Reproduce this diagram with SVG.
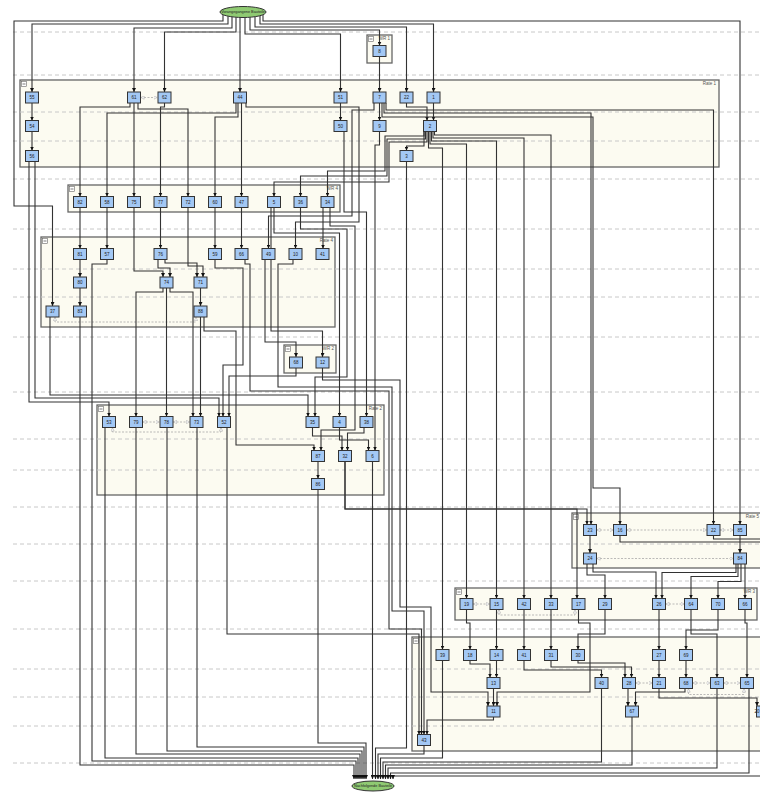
<svg xmlns="http://www.w3.org/2000/svg" width="760" height="794" viewBox="0 0 760 794">
<style>
.lane{stroke:#c8c8c8;stroke-width:1;stroke-dasharray:4 3;fill:none}
.grp{fill:#fcfbf1;stroke:#666;stroke-width:1.3}
.gl{font-family:"Liberation Sans",Arial,sans-serif;font-size:4.5px;fill:#555;text-anchor:end}
.ico{fill:#fff;stroke:#666;stroke-width:0.6}
.node rect{fill:#a3c8f4;stroke:#333;stroke-width:1}
.node text{font-family:"Liberation Sans",Arial,sans-serif;font-size:4.5px;fill:#222;text-anchor:middle}
.term ellipse{fill:#8fca72;stroke:#333;stroke-width:1}
.term text{font-family:"Liberation Sans",Arial,sans-serif;font-size:3.8px;fill:#222;text-anchor:middle}
.e polyline{fill:none;stroke:#333;stroke-width:1.1;marker-end:url(#a)}
.e polyline.open{marker-end:none}
.d polyline{fill:none;stroke:#aaa;stroke-width:0.8;stroke-dasharray:2 1.5;marker-start:url(#h);marker-end:url(#h)}
</style>
<defs>
<marker id="a" viewBox="0 0 6 6" refX="6" refY="3" markerWidth="4" markerHeight="4" markerUnits="userSpaceOnUse" orient="auto"><path d="M0,0L6,3L0,6z" fill="#111"/></marker>
<marker id="h" viewBox="0 0 6 6" refX="6" refY="3" markerWidth="4" markerHeight="4" markerUnits="userSpaceOnUse" orient="auto-start-reverse"><path d="M0.5,0.5L5.5,3L0.5,5.5z" fill="#fff" stroke="#aaa" stroke-width="0.8"/></marker>
</defs>
<rect width="760" height="794" fill="#fff"/>
<g id="clusters">
<rect class="grp" x="367" y="35" width="25" height="28"/><text class="gl" x="390" y="39.5">WR 1</text>
<rect class="grp" x="20" y="80" width="699" height="87"/><text class="gl" x="716" y="85">Rate 1</text>
<rect class="grp" x="68" y="185" width="272" height="27"/><text class="gl" x="338" y="189.5">WR 4</text>
<rect class="grp" x="41" y="237" width="294" height="90"/><text class="gl" x="333" y="241.5">Rate 4</text>
<rect class="grp" x="284" y="345" width="52" height="28"/><text class="gl" x="334" y="349.5">WR 2</text>
<rect class="grp" x="97" y="405" width="287" height="90"/><text class="gl" x="382" y="409.5">Rate 2</text>
<rect class="grp" x="572" y="513" width="230" height="55"/><text class="gl" x="759" y="517.5">Rate 5</text>
<rect class="grp" x="455" y="588" width="302" height="32"/><text class="gl" x="755" y="592.5">WR 3</text>
<rect class="grp" x="412" y="637" width="400" height="114"/>
<g id="icons">
<rect class="ico" x="368.5" y="36.5" width="5" height="5"/><path d="M369.5 39H372.5" stroke="#444" stroke-width="0.7"/>
<rect class="ico" x="21.5" y="81.5" width="5" height="5"/><path d="M22.5 84H25.5" stroke="#444" stroke-width="0.7"/>
<rect class="ico" x="69.5" y="186.5" width="5" height="5"/><path d="M70.5 189H73.5" stroke="#444" stroke-width="0.7"/>
<rect class="ico" x="42.5" y="238.5" width="5" height="5"/><path d="M43.5 241H46.5" stroke="#444" stroke-width="0.7"/>
<rect class="ico" x="285.5" y="346.5" width="5" height="5"/><path d="M286.5 349H289.5" stroke="#444" stroke-width="0.7"/>
<rect class="ico" x="98.5" y="406.5" width="5" height="5"/><path d="M99.5 409H102.5" stroke="#444" stroke-width="0.7"/>
<rect class="ico" x="573.5" y="514.5" width="5" height="5"/><path d="M574.5 517H577.5" stroke="#444" stroke-width="0.7"/>
<rect class="ico" x="456.5" y="589.5" width="5" height="5"/><path d="M457.5 592H460.5" stroke="#444" stroke-width="0.7"/>
<rect class="ico" x="413.5" y="638.5" width="5" height="5"/><path d="M414.5 641H417.5" stroke="#444" stroke-width="0.7"/>
</g>
</g>
<g id="lanes">
<line class="lane" x1="13" y1="32" x2="760" y2="32"/>
<line class="lane" x1="13" y1="75" x2="760" y2="75"/>
<line class="lane" x1="13" y1="112" x2="760" y2="112"/>
<line class="lane" x1="13" y1="141" x2="760" y2="141"/>
<line class="lane" x1="13" y1="179" x2="760" y2="179"/>
<line class="lane" x1="13" y1="229" x2="760" y2="229"/>
<line class="lane" x1="13" y1="269" x2="760" y2="269"/>
<line class="lane" x1="13" y1="297" x2="760" y2="297"/>
<line class="lane" x1="13" y1="337" x2="760" y2="337"/>
<line class="lane" x1="13" y1="392" x2="760" y2="392"/>
<line class="lane" x1="13" y1="439" x2="760" y2="439"/>
<line class="lane" x1="13" y1="470" x2="760" y2="470"/>
<line class="lane" x1="13" y1="507" x2="760" y2="507"/>
<line class="lane" x1="13" y1="544" x2="760" y2="544"/>
<line class="lane" x1="13" y1="581" x2="760" y2="581"/>
<line class="lane" x1="13" y1="629" x2="760" y2="629"/>
<line class="lane" x1="13" y1="669" x2="760" y2="669"/>
<line class="lane" x1="13" y1="697" x2="760" y2="697"/>
<line class="lane" x1="13" y1="726" x2="760" y2="726"/>
<line class="lane" x1="13" y1="763" x2="760" y2="763"/>
</g>
<g id="connectors">
<g class="d">
<polyline points="140.5,97.5 157.5,97.5"/>
<polyline points="142.5,422 159.5,422"/>
<polyline points="173,422 190,422"/>
<polyline points="112.5,427.5 112.5,432 221,432 221,427.5"/>
<polyline points="55,317 55,322 196,322 196,317"/>
<polyline points="473,604 490,604"/>
<polyline points="499,609.5 499,615 575,615 575,609.5"/>
<polyline points="665.5,604 684.5,604"/>
<polyline points="635.5,683 652.5,683"/>
<polyline points="692.5,683 710.5,683"/>
<polyline points="723.5,683 740.5,683"/>
<polyline points="688.5,688.5 688.5,694.5 744,694.5 744,688.5"/>
<polyline points="596.5,530 613.5,530"/>
<polyline points="626.5,530 707,530"/>
<polyline points="720,530 733.5,530"/>
<polyline points="596.5,558.5 733.5,558.5"/>
</g>
<g class="e">
<polyline points="223,14.7 223,21 14,21 14,206 52.5,206 52.5,306"/>
<polyline points="228,16.2 228,24 32,24 32,92"/>
<polyline points="232,16.8 232,28 134,28 134,92"/>
<polyline points="236,17.2 236,32 164.5,32 164.5,92"/>
<polyline points="240,17.4 240,92"/>
<polyline points="245,17.5 245,34 340.5,34 340.5,92"/>
<polyline points="250,17.2 250,30 379.5,30 379.5,45.5"/>
<polyline points="255,16.7 255,27 406.5,27 406.5,92"/>
<polyline points="260,15.7 260,24 433.5,24 433.5,92"/>
<polyline points="263,14.7 263,21 740,21 740,524.5"/>
<polyline points="32,103 32,120.5"/>
<polyline points="32,131.5 32,150.5"/>
<polyline points="340.5,103 340.5,120.5"/>
<polyline points="379.5,56.5 379.5,92"/>
<polyline points="379.5,103 379.5,120.5"/>
<polyline points="406.5,103 406.5,107 427,107 427,120.5"/>
<polyline points="433.5,103 433.5,120.5"/>
<polyline points="386,103 386,110 713.5,110 713.5,524.5"/>
<polyline points="384,103 384,113 591,113 591,524.5"/>
<polyline points="382,103 382,117 593,117 593,488 620,488 620,524.5"/>
<polyline points="374,103 374,110 352,110 352,216 268.5,216 268.5,248.5"/>
<polyline points="246,103 246,107 359,107 359,222 295.5,222 295.5,248.5"/>
<polyline points="236,103 236,113 107,113 107,196.5"/>
<polyline points="238,103 238,117 215,117 215,196.5"/>
<polyline points="241.5,103 241.5,196.5"/>
<polyline points="130,103 130,107 80,107 80,196.5"/>
<polyline points="134,103 134,196.5"/>
<polyline points="138,103 138,109 188,109 188,196.5"/>
<polyline points="164.5,103 164.5,107 160.5,107 160.5,196.5"/>
<polyline points="424,131.5 424,136 385,136 385,171 327.5,171 327.5,196.5"/>
<polyline points="425.5,131.5 425.5,139 387,139 387,176 300.5,176 300.5,196.5"/>
<polyline points="427,131.5 427,142 389,142 389,182 274,182 274,196.5"/>
<polyline points="424,131.5 424,146 406.5,146 406.5,150.5"/>
<polyline points="434.5,131.5 434.5,135 551,135 551,598.5"/>
<polyline points="433,131.5 433,138 524,138 524,598.5"/>
<polyline points="431.5,131.5 431.5,141 496.5,141 496.5,598.5"/>
<polyline points="430,131.5 430,144 466.5,144 466.5,598.5"/>
<polyline points="428.5,131.5 428.5,148 442.5,148 442.5,649.5"/>
<polyline points="379.5,131.5 379.5,145 375,145 375,450.5"/>
<polyline points="344,131.5 344,212 366.5,212 366.5,416.5"/>
<polyline points="406.5,161.5 406.5,748 375.5,748 375.5,779"/>
<polyline points="80,207.5 80,248.5"/>
<polyline points="107,207.5 107,248.5"/>
<polyline points="160.5,207.5 160.5,248.5"/>
<polyline points="215,207.5 215,248.5"/>
<polyline points="241.5,207.5 241.5,248.5"/>
<polyline points="323,207.5 323,248.5"/>
<polyline points="134,207.5 134,271 163,271 163,277"/>
<polyline points="188,207.5 188,266 203,266 203,277"/>
<polyline points="158,259.5 158,268 170,268 170,277"/>
<polyline points="165,259.5 165,263 197,263 197,277"/>
<polyline points="274,207.5 274,233 339.5,233 339.5,416.5"/>
<polyline points="271,207.5 271,331 322.5,331 322.5,357"/>
<polyline points="300.5,207.5 300.5,229 347,229 347,377 315,377 315,416.5"/>
<polyline points="330,207.5 330,226 355,226 355,430 321,430 321,450.5"/>
<polyline points="265,259.5 265,342 296,342 296,357"/>
<polyline points="293,259.5 293,264 278,264 278,387 392,387 392,611 424,611 424,734.5"/>
<polyline points="245,259.5 245,264 250,264 250,391 389,391 389,629 421.5,629 421.5,734.5"/>
<polyline points="215,259.5 215,268 243,268 243,365 223,365 223,416.5"/>
<polyline points="322.5,368 322.5,380 400,380 400,607 431,607 431,692 488,692 488,706"/>
<polyline points="296,368 296,376 229,376 229,416.5"/>
<polyline points="50,317 50,395 308,395 308,416.5"/>
<polyline points="29,161.5 29,402 109,402 109,416.5"/>
<polyline points="35,161.5 35,398 219,398 219,416.5"/>
<polyline points="80,259.5 80,277"/>
<polyline points="80,288 80,306"/>
<polyline points="80,317 80,765 354,765 354,779"/>
<polyline points="107,259.5 107,264 92,264 92,761 356,761 356,779"/>
<polyline points="105,427.5 105,758 358,758 358,779"/>
<polyline points="136,427.5 136,754 360,754 360,779"/>
<polyline points="167,427.5 167,751 362,751 362,779"/>
<polyline points="197,427.5 197,747 364,747 364,779"/>
<polyline points="318,489.5 318,743 366,743 366,779"/>
<polyline points="372.5,461.5 372.5,779"/>
<polyline points="312.5,427.5 312.5,436 342,436 342,450.5"/>
<polyline points="364,427.5 364,433 347.5,433 347.5,450.5"/>
<polyline points="339.5,427.5 339.5,440 368.5,440 368.5,450.5"/>
<polyline points="204,317 204,331 236,331 236,445 314,445 314,450.5"/>
<polyline points="200.5,317 200.5,416.5"/>
<polyline points="200.5,288 200.5,306"/>
<polyline points="163,288 163,292 136,292 136,416.5"/>
<polyline points="166.5,288 166.5,416.5"/>
<polyline points="170,288 170,292 193,292 193,416.5"/>
<polyline points="318,461.5 318,478.5"/>
<polyline points="345,461.5 345,509 587,509 587,524.5"/>
<polyline points="345,461.5 345,509 577,509 577,598.5"/>
<polyline points="227,427.5 227,634 419,634 419,734.5"/>
<polyline points="493.5,717 493.5,720 427,720 427,734.5"/>
<polyline points="590,535.5 590,553"/>
<polyline points="740,535.5 740,553"/>
<polyline class="open" points="620,535.5 620,542 770,542"/>
<polyline class="open" points="713.5,535.5 713.5,539 770,539"/>
<polyline points="587,564 587,575 605,575 605,598.5"/>
<polyline points="593,564 593,572 656,572 656,598.5"/>
<polyline points="736,564 736,572.5 662,572.5 662,598.5"/>
<polyline points="738,564 738,576.5 691,576.5 691,598.5"/>
<polyline points="741,564 741,581.5 718,581.5 718,598.5"/>
<polyline points="745,564 745,598.5"/>
<polyline points="466.5,609.5 466.5,623 470,623 470,649.5"/>
<polyline points="496.5,609.5 496.5,649.5"/>
<polyline points="524,609.5 524,649.5"/>
<polyline points="551,609.5 551,649.5"/>
<polyline points="578.5,609.5 578.5,623 590,623 590,692 497,692 497,706"/>
<polyline points="605,609.5 605,634 578,634 578,649.5"/>
<polyline points="659,609.5 659,649.5"/>
<polyline points="691,609.5 691,634 717,634 717,677.5"/>
<polyline points="718,609.5 718,630 686,630 686,649.5"/>
<polyline points="745,609.5 745,623 747,623 747,677.5"/>
<polyline points="470,660.5 470,664 490,664 490,677.5"/>
<polyline points="496.5,660.5 496.5,677.5"/>
<polyline points="524,660.5 524,670 601.5,670 601.5,677.5"/>
<polyline points="551,660.5 551,667 631.5,667 631.5,677.5"/>
<polyline points="578,660.5 578,663 625,663 625,677.5"/>
<polyline points="659,660.5 659,677.5"/>
<polyline points="686,660.5 686,677.5"/>
<polyline points="493.5,688.5 493.5,706"/>
<polyline points="628,688.5 628,706"/>
<polyline points="685,688.5 685,692 635.5,692 635.5,706"/>
<polyline points="659,688.5 659,698 757,698 757,706"/>
<polyline points="601.5,688.5 601.5,762 383,762 383,779"/>
<polyline points="632,717 632,765 385.5,765 385.5,779"/>
<polyline points="717,688.5 717,768 388,768 388,779"/>
<polyline points="749,688.5 749,773 390.5,773 390.5,779"/>
<polyline points="765,717 765,776 393,776 393,779"/>
<polyline points="424,745.5 424,754 378,754 378,779"/>
<polyline points="442.5,660.5 442.5,758 380.5,758 380.5,779"/>
</g>
</g>
<g id="start" class="term"><ellipse cx="243" cy="12" rx="23" ry="5.5"/><text x="243" y="13.3">Vorangegangene Bauteile</text></g>
<g id="end" class="term"><ellipse cx="373" cy="786" rx="21" ry="5"/><text x="373" y="787.3">Nachfolgende Bauteile</text></g>
<g id="nodes">
<g id="n8" class="node" transform="translate(379.5,51)"><rect x="-6.5" y="-5.5" width="13" height="11"/><text y="1.6">8</text></g>
<g id="n55" class="node" transform="translate(32,97.5)"><rect x="-6.5" y="-5.5" width="13" height="11"/><text y="1.6">55</text></g>
<g id="n61" class="node" transform="translate(134,97.5)"><rect x="-6.5" y="-5.5" width="13" height="11"/><text y="1.6">61</text></g>
<g id="n62" class="node" transform="translate(164.5,97.5)"><rect x="-6.5" y="-5.5" width="13" height="11"/><text y="1.6">62</text></g>
<g id="n44" class="node" transform="translate(240,97.5)"><rect x="-6.5" y="-5.5" width="13" height="11"/><text y="1.6">44</text></g>
<g id="n51" class="node" transform="translate(340.5,97.5)"><rect x="-6.5" y="-5.5" width="13" height="11"/><text y="1.6">51</text></g>
<g id="n7" class="node" transform="translate(379.5,97.5)"><rect x="-6.5" y="-5.5" width="13" height="11"/><text y="1.6">7</text></g>
<g id="n22" class="node" transform="translate(406.5,97.5)"><rect x="-6.5" y="-5.5" width="13" height="11"/><text y="1.6">22</text></g>
<g id="n1" class="node" transform="translate(433.5,97.5)"><rect x="-6.5" y="-5.5" width="13" height="11"/><text y="1.6">1</text></g>
<g id="n54" class="node" transform="translate(32,126)"><rect x="-6.5" y="-5.5" width="13" height="11"/><text y="1.6">54</text></g>
<g id="n50" class="node" transform="translate(340.5,126)"><rect x="-6.5" y="-5.5" width="13" height="11"/><text y="1.6">50</text></g>
<g id="n9" class="node" transform="translate(379.5,126)"><rect x="-6.5" y="-5.5" width="13" height="11"/><text y="1.6">9</text></g>
<g id="n2" class="node" transform="translate(430,126)"><rect x="-6.5" y="-5.5" width="13" height="11"/><text y="1.6">2</text></g>
<g id="n56" class="node" transform="translate(32,156)"><rect x="-6.5" y="-5.5" width="13" height="11"/><text y="1.6">56</text></g>
<g id="n3" class="node" transform="translate(406.5,156)"><rect x="-6.5" y="-5.5" width="13" height="11"/><text y="1.6">3</text></g>
<g id="n82" class="node" transform="translate(80,202)"><rect x="-6.5" y="-5.5" width="13" height="11"/><text y="1.6">82</text></g>
<g id="n58" class="node" transform="translate(107,202)"><rect x="-6.5" y="-5.5" width="13" height="11"/><text y="1.6">58</text></g>
<g id="n75" class="node" transform="translate(134,202)"><rect x="-6.5" y="-5.5" width="13" height="11"/><text y="1.6">75</text></g>
<g id="n77" class="node" transform="translate(160.5,202)"><rect x="-6.5" y="-5.5" width="13" height="11"/><text y="1.6">77</text></g>
<g id="n72" class="node" transform="translate(188,202)"><rect x="-6.5" y="-5.5" width="13" height="11"/><text y="1.6">72</text></g>
<g id="n60" class="node" transform="translate(215,202)"><rect x="-6.5" y="-5.5" width="13" height="11"/><text y="1.6">60</text></g>
<g id="n47" class="node" transform="translate(241.5,202)"><rect x="-6.5" y="-5.5" width="13" height="11"/><text y="1.6">47</text></g>
<g id="n5" class="node" transform="translate(274,202)"><rect x="-6.5" y="-5.5" width="13" height="11"/><text y="1.6">5</text></g>
<g id="n36" class="node" transform="translate(300.5,202)"><rect x="-6.5" y="-5.5" width="13" height="11"/><text y="1.6">36</text></g>
<g id="n34" class="node" transform="translate(327.5,202)"><rect x="-6.5" y="-5.5" width="13" height="11"/><text y="1.6">34</text></g>
<g id="n81" class="node" transform="translate(80,254)"><rect x="-6.5" y="-5.5" width="13" height="11"/><text y="1.6">81</text></g>
<g id="n57" class="node" transform="translate(107,254)"><rect x="-6.5" y="-5.5" width="13" height="11"/><text y="1.6">57</text></g>
<g id="n76" class="node" transform="translate(160.5,254)"><rect x="-6.5" y="-5.5" width="13" height="11"/><text y="1.6">76</text></g>
<g id="n59" class="node" transform="translate(215,254)"><rect x="-6.5" y="-5.5" width="13" height="11"/><text y="1.6">59</text></g>
<g id="n66" class="node" transform="translate(241.5,254)"><rect x="-6.5" y="-5.5" width="13" height="11"/><text y="1.6">66</text></g>
<g id="n49" class="node" transform="translate(268.5,254)"><rect x="-6.5" y="-5.5" width="13" height="11"/><text y="1.6">49</text></g>
<g id="n10" class="node" transform="translate(295.5,254)"><rect x="-6.5" y="-5.5" width="13" height="11"/><text y="1.6">10</text></g>
<g id="n41" class="node" transform="translate(322.5,254)"><rect x="-6.5" y="-5.5" width="13" height="11"/><text y="1.6">41</text></g>
<g id="n80" class="node" transform="translate(80,282.5)"><rect x="-6.5" y="-5.5" width="13" height="11"/><text y="1.6">80</text></g>
<g id="n74" class="node" transform="translate(166.5,282.5)"><rect x="-6.5" y="-5.5" width="13" height="11"/><text y="1.6">74</text></g>
<g id="n71" class="node" transform="translate(200.5,282.5)"><rect x="-6.5" y="-5.5" width="13" height="11"/><text y="1.6">71</text></g>
<g id="n37" class="node" transform="translate(52.5,311.5)"><rect x="-6.5" y="-5.5" width="13" height="11"/><text y="1.6">37</text></g>
<g id="n83" class="node" transform="translate(80,311.5)"><rect x="-6.5" y="-5.5" width="13" height="11"/><text y="1.6">83</text></g>
<g id="n88" class="node" transform="translate(200.5,311.5)"><rect x="-6.5" y="-5.5" width="13" height="11"/><text y="1.6">88</text></g>
<g id="n68" class="node" transform="translate(296,362.5)"><rect x="-6.5" y="-5.5" width="13" height="11"/><text y="1.6">68</text></g>
<g id="n12" class="node" transform="translate(322.5,362.5)"><rect x="-6.5" y="-5.5" width="13" height="11"/><text y="1.6">12</text></g>
<g id="n53" class="node" transform="translate(109,422)"><rect x="-6.5" y="-5.5" width="13" height="11"/><text y="1.6">53</text></g>
<g id="n79" class="node" transform="translate(136,422)"><rect x="-6.5" y="-5.5" width="13" height="11"/><text y="1.6">79</text></g>
<g id="n78" class="node" transform="translate(166.5,422)"><rect x="-6.5" y="-5.5" width="13" height="11"/><text y="1.6">78</text></g>
<g id="n73" class="node" transform="translate(196.5,422)"><rect x="-6.5" y="-5.5" width="13" height="11"/><text y="1.6">73</text></g>
<g id="n52" class="node" transform="translate(224,422)"><rect x="-6.5" y="-5.5" width="13" height="11"/><text y="1.6">52</text></g>
<g id="n35" class="node" transform="translate(312.5,422)"><rect x="-6.5" y="-5.5" width="13" height="11"/><text y="1.6">35</text></g>
<g id="n4" class="node" transform="translate(339.5,422)"><rect x="-6.5" y="-5.5" width="13" height="11"/><text y="1.6">4</text></g>
<g id="n38" class="node" transform="translate(366.5,422)"><rect x="-6.5" y="-5.5" width="13" height="11"/><text y="1.6">38</text></g>
<g id="n87" class="node" transform="translate(318,456)"><rect x="-6.5" y="-5.5" width="13" height="11"/><text y="1.6">87</text></g>
<g id="n32" class="node" transform="translate(345,456)"><rect x="-6.5" y="-5.5" width="13" height="11"/><text y="1.6">32</text></g>
<g id="n6" class="node" transform="translate(372.5,456)"><rect x="-6.5" y="-5.5" width="13" height="11"/><text y="1.6">6</text></g>
<g id="n86" class="node" transform="translate(318,484)"><rect x="-6.5" y="-5.5" width="13" height="11"/><text y="1.6">86</text></g>
<g id="n23" class="node" transform="translate(590,530)"><rect x="-6.5" y="-5.5" width="13" height="11"/><text y="1.6">23</text></g>
<g id="n16" class="node" transform="translate(620,530)"><rect x="-6.5" y="-5.5" width="13" height="11"/><text y="1.6">16</text></g>
<g id="n22b" class="node" transform="translate(713.5,530)"><rect x="-6.5" y="-5.5" width="13" height="11"/><text y="1.6">22</text></g>
<g id="n85" class="node" transform="translate(740,530)"><rect x="-6.5" y="-5.5" width="13" height="11"/><text y="1.6">85</text></g>
<g id="n24" class="node" transform="translate(590,558.5)"><rect x="-6.5" y="-5.5" width="13" height="11"/><text y="1.6">24</text></g>
<g id="n84" class="node" transform="translate(740,558.5)"><rect x="-6.5" y="-5.5" width="13" height="11"/><text y="1.6">84</text></g>
<g id="n19" class="node" transform="translate(466.5,604)"><rect x="-6.5" y="-5.5" width="13" height="11"/><text y="1.6">19</text></g>
<g id="n15" class="node" transform="translate(496.5,604)"><rect x="-6.5" y="-5.5" width="13" height="11"/><text y="1.6">15</text></g>
<g id="n42" class="node" transform="translate(524,604)"><rect x="-6.5" y="-5.5" width="13" height="11"/><text y="1.6">42</text></g>
<g id="n33" class="node" transform="translate(551,604)"><rect x="-6.5" y="-5.5" width="13" height="11"/><text y="1.6">33</text></g>
<g id="n17" class="node" transform="translate(578.5,604)"><rect x="-6.5" y="-5.5" width="13" height="11"/><text y="1.6">17</text></g>
<g id="n29" class="node" transform="translate(605,604)"><rect x="-6.5" y="-5.5" width="13" height="11"/><text y="1.6">29</text></g>
<g id="n26" class="node" transform="translate(659,604)"><rect x="-6.5" y="-5.5" width="13" height="11"/><text y="1.6">26</text></g>
<g id="n64" class="node" transform="translate(691,604)"><rect x="-6.5" y="-5.5" width="13" height="11"/><text y="1.6">64</text></g>
<g id="n70" class="node" transform="translate(718,604)"><rect x="-6.5" y="-5.5" width="13" height="11"/><text y="1.6">70</text></g>
<g id="n66b" class="node" transform="translate(745,604)"><rect x="-6.5" y="-5.5" width="13" height="11"/><text y="1.6">66</text></g>
<g id="n39" class="node" transform="translate(442.5,655)"><rect x="-6.5" y="-5.5" width="13" height="11"/><text y="1.6">39</text></g>
<g id="n18" class="node" transform="translate(470,655)"><rect x="-6.5" y="-5.5" width="13" height="11"/><text y="1.6">18</text></g>
<g id="n14" class="node" transform="translate(496.5,655)"><rect x="-6.5" y="-5.5" width="13" height="11"/><text y="1.6">14</text></g>
<g id="n41b" class="node" transform="translate(524,655)"><rect x="-6.5" y="-5.5" width="13" height="11"/><text y="1.6">41</text></g>
<g id="n31" class="node" transform="translate(551,655)"><rect x="-6.5" y="-5.5" width="13" height="11"/><text y="1.6">31</text></g>
<g id="n30" class="node" transform="translate(578,655)"><rect x="-6.5" y="-5.5" width="13" height="11"/><text y="1.6">30</text></g>
<g id="n27" class="node" transform="translate(659,655)"><rect x="-6.5" y="-5.5" width="13" height="11"/><text y="1.6">27</text></g>
<g id="n69" class="node" transform="translate(686,655)"><rect x="-6.5" y="-5.5" width="13" height="11"/><text y="1.6">69</text></g>
<g id="n13" class="node" transform="translate(493.5,683)"><rect x="-6.5" y="-5.5" width="13" height="11"/><text y="1.6">13</text></g>
<g id="n40" class="node" transform="translate(601.5,683)"><rect x="-6.5" y="-5.5" width="13" height="11"/><text y="1.6">40</text></g>
<g id="n28" class="node" transform="translate(629,683)"><rect x="-6.5" y="-5.5" width="13" height="11"/><text y="1.6">28</text></g>
<g id="n21" class="node" transform="translate(659,683)"><rect x="-6.5" y="-5.5" width="13" height="11"/><text y="1.6">21</text></g>
<g id="n68b" class="node" transform="translate(686,683)"><rect x="-6.5" y="-5.5" width="13" height="11"/><text y="1.6">68</text></g>
<g id="n63" class="node" transform="translate(717,683)"><rect x="-6.5" y="-5.5" width="13" height="11"/><text y="1.6">63</text></g>
<g id="n65" class="node" transform="translate(747,683)"><rect x="-6.5" y="-5.5" width="13" height="11"/><text y="1.6">65</text></g>
<g id="n11" class="node" transform="translate(493.5,711.5)"><rect x="-6.5" y="-5.5" width="13" height="11"/><text y="1.6">11</text></g>
<g id="n67" class="node" transform="translate(632,711.5)"><rect x="-6.5" y="-5.5" width="13" height="11"/><text y="1.6">67</text></g>
<g id="n20" class="node" transform="translate(763,711.5)"><rect x="-6.5" y="-5.5" width="13" height="11"/><text x="-3.5" y="1.6" style="text-anchor:end">20</text></g>
<g id="n43" class="node" transform="translate(424,740)"><rect x="-6.5" y="-5.5" width="13" height="11"/><text y="1.6">43</text></g>
</g>
</svg>
